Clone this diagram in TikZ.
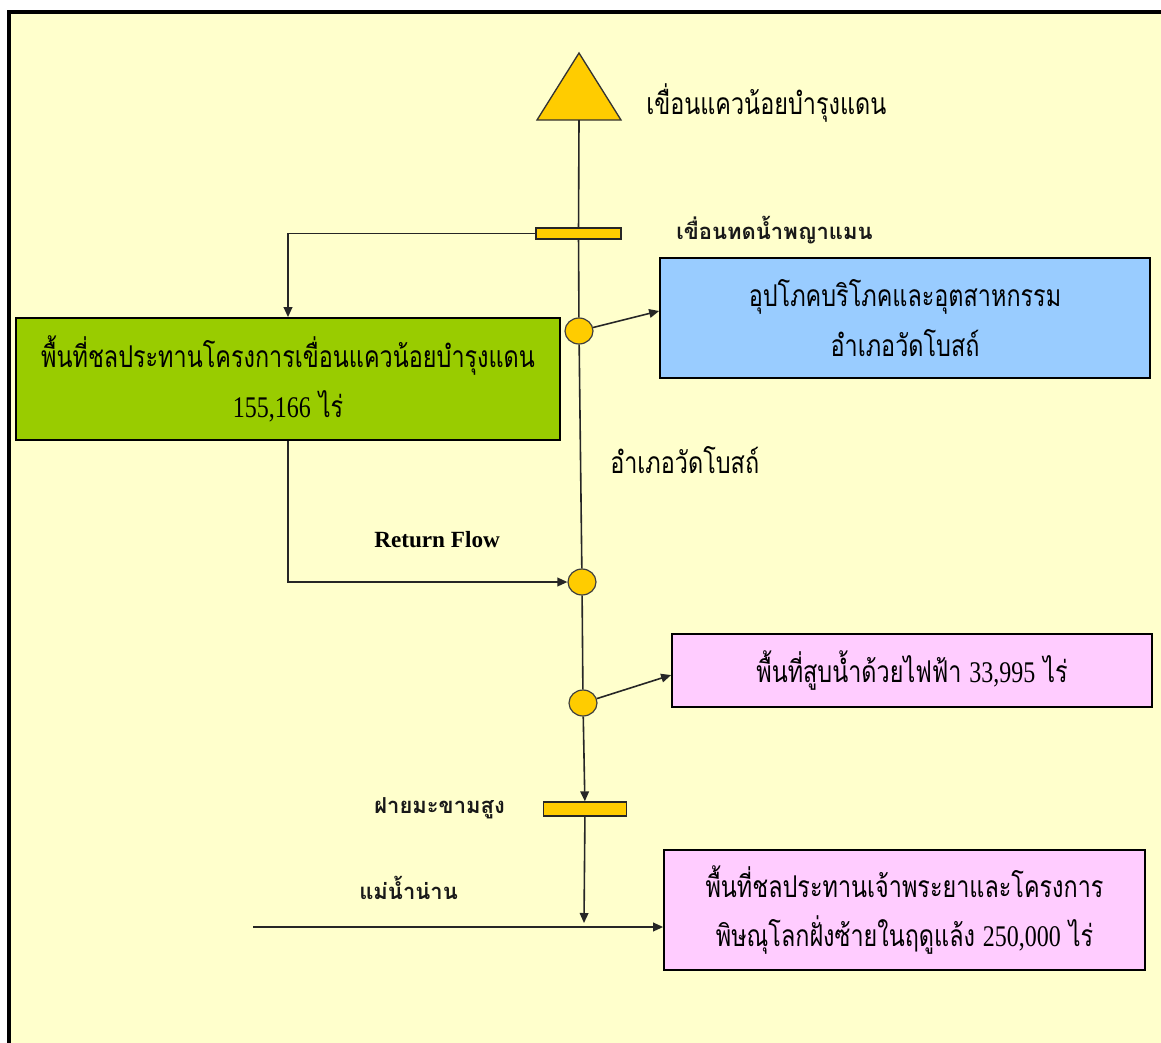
\documentclass[tikz,border=0pt]{standalone}
\usepackage{fontspec}
\setmainfont{Liberation Serif}
\newfontfamily\thai[Script=Thai,FakeStretch=0.78]{Loma}
\newfontfamily\thaib[Script=Thai]{Loma}
\newfontfamily\tnr[FakeStretch=0.8]{Liberation Serif}
\usetikzlibrary{arrows.meta,shapes.geometric,calc}
\definecolor{bg}{HTML}{FFFFCC}
\definecolor{damyellow}{HTML}{FFCC00}
\definecolor{greenbox}{HTML}{99CC00}
\definecolor{bluebox}{HTML}{99CCFF}
\definecolor{pinkbox}{HTML}{FFCCFF}
\definecolor{linegray}{HTML}{262626}
\begin{document}
\begin{tikzpicture}[x=0.75pt,y=-0.75pt,
  box/.style={draw=black, line width=1.3pt, align=center, inner sep=0pt,
    font=\thai\fontsize{22.5}{37}\selectfont},
  weir/.style={rectangle, draw=black!85, fill=damyellow, line width=1pt, inner sep=0pt},
  junc/.style={ellipse, draw=black!75, fill=damyellow, minimum width=21pt,
    minimum height=19.5pt, inner sep=0pt, line width=0.9pt},
  flow/.style={draw=linegray, line width=1.2pt},
  arr/.style={flow, -{Triangle[length=7.5pt,width=6.5pt]}},
  lbl/.style={inner sep=0pt, font=\thai\fontsize{22.5}{26}\selectfont},
  blbl/.style={inner sep=0pt, text=black!90, font=\thaib\bfseries\fontsize{16.5}{19}\selectfont}
]
\useasboundingbox (0,0) rectangle (1161,1043);
\clip (0,0) rectangle (1161,1043);
\fill[white] (0,0) rectangle (1161,1043);
\draw[line width=2.6pt, fill=bg] (9,12) rectangle (1200,1080);

% dam
\draw[fill=damyellow, draw=black!80, line width=1pt] (579,53) -- (621,120) -- (537,120) -- cycle;
\coordinate (dam) at (579,120);

% structures
\node[weir, minimum width=63.75pt, minimum height=8.25pt] (weir1) at (578.5,233.5) {};
\node[junc] (c1) at (579,331) {};
\node[junc] (c2) at (582,582) {};
\node[junc] (c3) at (583,703) {};
\node[weir, minimum width=62.25pt, minimum height=10.5pt] (weir2) at (585,809) {};
\coordinate (rs) at (253,927);
\coordinate (rj) at (584,927);

% boxes
\node[box, fill=greenbox, minimum width=408pt, minimum height=91.5pt] (green) at (288,379)
  {พื้นที่ชลประทานโครงการเขื่อนแควน้อยบำรุงแดน\\{\tnr 155,166} ไร่};
\node[box, fill=bluebox, minimum width=367.5pt, minimum height=90pt] (blue) at (905,318)
  {อุปโภคบริโภคและอุตสาหกรรม\\อำเภอวัดโบสถ์};
\node[box, fill=pinkbox, minimum width=360pt, minimum height=54.75pt] (pink1) at (912,670.5)
  {พื้นที่สูบน้ำด้วยไฟฟ้า {\tnr 33,995} ไร่};
\node[box, fill=pinkbox, minimum width=360.75pt, minimum height=90pt] (pink2) at (904.5,910)
  {พื้นที่ชลประทานเจ้าพระยาและโครงการ\\พิษณุโลกฝั่งซ้ายในฤดูแล้ง {\tnr 250,000} ไร่};

% main stem
\draw[flow] (dam) -- (weir1);
\draw[flow] (weir1) -- (c1);
\draw[flow] (c1) -- (c2);
\draw[flow] (c2) -- (c3);
\draw[arr] (c3) -- (weir2);
\draw[arr] (weir2) -- ([yshift=3pt]rj);

% branches
\draw[arr] (weir1.west) -| (green.north);
\draw[arr] (green.south) |- (c2);
\draw[arr] (c1) -- ([yshift=5.25pt]blue.west);
\draw[arr] (c3) -- ([yshift=-3.4pt]pink1.west);
\draw[arr] (rs) -- ([yshift=-12.75pt]pink2.west);

% labels
\node[lbl, anchor=west] (damlbl) at (646,103) {เขื่อนแควน้อยบำรุงแดน};
\node[blbl, anchor=west] (weir1lbl) at (676,230) {เขื่อนทดน้ำพญาแมน};
\node[lbl, anchor=west] (wblbl) at (610,460) {อำเภอวัดโบสถ์};
\node[inner sep=0pt, anchor=west, font=\bfseries\fontsize{17.4}{20}\selectfont] (rflbl) at (374,540) {Return Flow};
\node[blbl, anchor=west] (weir2lbl) at (374,808) {ฝายมะขามสูง};
\node[blbl, anchor=west] (riverlbl) at (359,888) {แม่น้ำน่าน};
\end{tikzpicture}
\end{document}
